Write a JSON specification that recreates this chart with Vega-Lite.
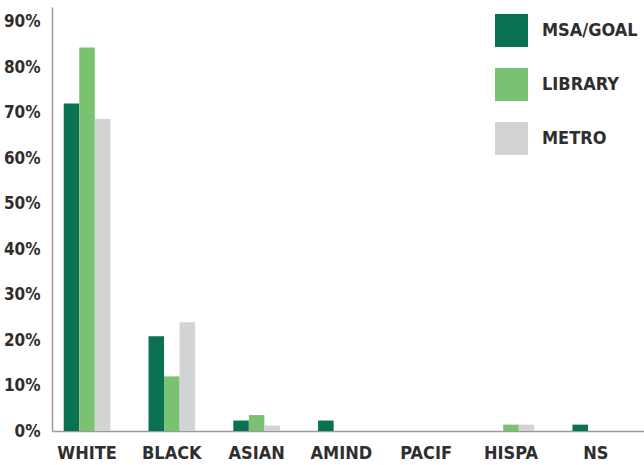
{
  "$schema": "https://vega.github.io/schema/vega-lite/v6.json",
  "autosize": {"type": "none"},
  "width": 592,
  "height": 424,
  "padding": {"left": 52, "top": 7, "right": 0, "bottom": 34},
  "background": "white",
  "config": {
    "view": {"stroke": null},
    "font": "DejaVu Sans Condensed, Roboto, sans-serif",
    "axis": {
      "labelFont": "DejaVu Sans Condensed, Roboto, sans-serif",
      "labelFontWeight": "bold",
      "labelColor": "#2e2e2e",
      "domainColor": "#9a9a9a",
      "domainWidth": 1.5,
      "ticks": false,
      "grid": false,
      "title": null
    },
    "legend": {
      "labelFont": "DejaVu Sans Condensed, Roboto, sans-serif",
      "labelFontWeight": "bold",
      "labelColor": "#2e2e2e"
    }
  },
  "data": {
    "values": [
      {"group": "WHITE", "series": "MSA/GOAL", "share": 0.72},
      {"group": "WHITE", "series": "LIBRARY", "share": 0.843},
      {"group": "WHITE", "series": "METRO", "share": 0.686},
      {"group": "BLACK", "series": "MSA/GOAL", "share": 0.208},
      {"group": "BLACK", "series": "LIBRARY", "share": 0.12},
      {"group": "BLACK", "series": "METRO", "share": 0.239},
      {"group": "ASIAN", "series": "MSA/GOAL", "share": 0.023},
      {"group": "ASIAN", "series": "LIBRARY", "share": 0.035},
      {"group": "ASIAN", "series": "METRO", "share": 0.012},
      {"group": "AMIND", "series": "MSA/GOAL", "share": 0.023},
      {"group": "AMIND", "series": "LIBRARY", "share": 0},
      {"group": "AMIND", "series": "METRO", "share": 0},
      {"group": "PACIF", "series": "MSA/GOAL", "share": 0},
      {"group": "PACIF", "series": "LIBRARY", "share": 0},
      {"group": "PACIF", "series": "METRO", "share": 0},
      {"group": "HISPA", "series": "MSA/GOAL", "share": 0},
      {"group": "HISPA", "series": "LIBRARY", "share": 0.014},
      {"group": "HISPA", "series": "METRO", "share": 0.014},
      {"group": "NS", "series": "MSA/GOAL", "share": 0.014},
      {"group": "NS", "series": "LIBRARY", "share": 0},
      {"group": "NS", "series": "METRO", "share": 0}
    ]
  },
  "mark": {"type": "bar"},
  "encoding": {
    "x": {
      "field": "group",
      "type": "nominal",
      "sort": ["WHITE", "BLACK", "ASIAN", "AMIND", "PACIF", "HISPA", "NS"],
      "scale": {"paddingInner": 0.45, "paddingOuter": 0.216, "align": 0.32},
      "axis": {"labelAngle": 0, "labelFontSize": 18, "labelPadding": 13}
    },
    "xOffset": {
      "field": "series",
      "type": "nominal",
      "sort": ["MSA/GOAL", "LIBRARY", "METRO"],
      "scale": {"paddingInner": 0, "paddingOuter": 0}
    },
    "y": {
      "field": "share",
      "type": "quantitative",
      "scale": {"domain": [0, 0.932], "nice": false, "zero": true},
      "axis": {
        "values": [0, 0.1, 0.2, 0.3, 0.4, 0.5, 0.6, 0.7, 0.8, 0.9],
        "format": ".0%",
        "labelFontSize": 17,
        "labelPadding": 12
      }
    },
    "color": {
      "field": "series",
      "type": "nominal",
      "sort": ["MSA/GOAL", "LIBRARY", "METRO"],
      "scale": {
        "domain": ["MSA/GOAL", "LIBRARY", "METRO"],
        "range": ["#0a7152", "#78c271", "#d2d3d5"]
      },
      "legend": {
        "title": null,
        "orient": "none",
        "legendX": 443,
        "legendY": 7,
        "padding": 0,
        "symbolType": "square",
        "symbolSize": 1089,
        "symbolStrokeWidth": 0,
        "symbolOpacity": 1,
        "labelFontSize": 18,
        "labelOffset": 14,
        "rowPadding": 21,
        "labelLimit": 200
      }
    }
  }
}
